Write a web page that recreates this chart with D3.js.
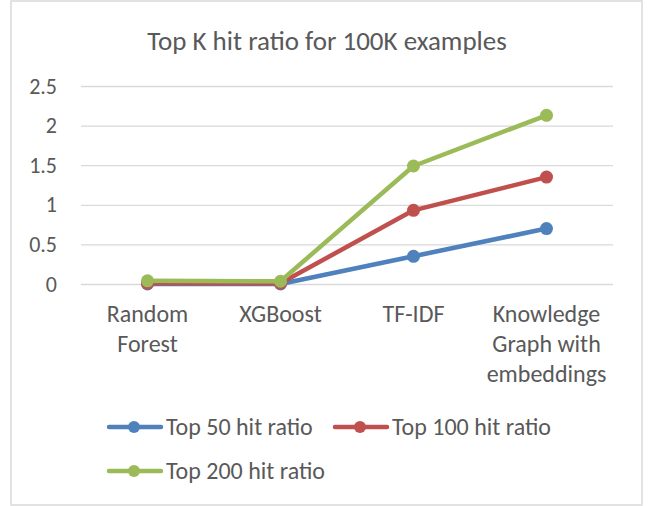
<!DOCTYPE html>
<html>
<head>
<meta charset="utf-8">
<script src="https://cdn.jsdelivr.net/npm/d3@7"></script>
<style>
  html, body { margin: 0; padding: 0; background: #fff; }
  svg { display: block; }
  text { font-family: Carlito, Calibri, Lato, "Open Sans", sans-serif; fill: #595959; }
</style>
</head>
<body>
<svg id="chart" width="649" height="506"></svg>
<script>
const title = "Top K hit ratio for 100K examples";
const categories = [["Random", "Forest"], ["XGBoost"], ["TF-IDF"], ["Knowledge", "Graph with", "embeddings"]];
const categoryKeys = ["Random Forest", "XGBoost", "TF-IDF", "Knowledge Graph with embeddings"];
const seriesNames = ["Top 50 hit ratio", "Top 100 hit ratio", "Top 200 hit ratio"];
const top50 = [0, 0, 0.35, 0.70];
const top100 = [0.01, 0.01, 0.93, 1.35];
const top200 = [0.04, 0.035, 1.49, 2.13];
const yTicks = [0, 0.5, 1, 1.5, 2, 2.5];
const yTickLabels = ["0", "0.5", "1", "1.5", "2", "2.5"];
const colors = ["#4F81BD", "#C0504D", "#9BBB59"];

const series = [top50, top100, top200];
const svg = d3.select("#chart");

// chart border
svg.append("rect").attr("x", 11).attr("y", 1).attr("width", 631).attr("height", 504)
  .attr("fill", "#fff").attr("stroke", "#D9D9D9").attr("stroke-width", 1.5);

svg.append("text").attr("x", 327).attr("y", 50).attr("text-anchor", "middle")
  .style("font-size", "27px").text(title);

const x = d3.scaleBand().domain(categoryKeys).range([81, 613]);
const y = d3.scaleLinear().domain([0, 2.5]).range([284, 86]);

// gridlines
const yAxis = d3.axisLeft(y).tickValues(yTicks).tickFormat((d, i) => yTickLabels[i])
  .tickSize(-(613 - 81)).tickPadding(24);
const gy = svg.append("g").attr("transform", "translate(81,0)").call(yAxis);
gy.select(".domain").remove();
gy.selectAll(".tick line").attr("stroke", "#D9D9D9").attr("stroke-width", 1.3);
gy.selectAll(".tick text").style("font-size", "22px").attr("fill", "#595959")
  .attr("font-family", null);

// x category labels
const gx = svg.append("g");
categoryKeys.forEach((k, i) => {
  const t = gx.append("text").attr("x", x(k) + x.bandwidth() / 2).attr("y", 322)
    .attr("text-anchor", "middle").style("font-size", "24px");
  categories[i].forEach((line, j) => {
    t.append("tspan").attr("x", x(k) + x.bandwidth() / 2).attr("dy", j === 0 ? 0 : 30).text(line);
  });
});

const line = d3.line().x((d, i) => x(categoryKeys[i]) + x.bandwidth() / 2).y(d => y(d));
series.forEach((s, si) => {
  svg.append("path").datum(s).attr("d", line).attr("fill", "none")
    .attr("stroke", colors[si]).attr("stroke-width", 4.5).attr("stroke-linejoin", "round").attr("stroke-linecap", "round");
  svg.selectAll(null).data(s).enter().append("circle")
    .attr("cx", (d, i) => x(categoryKeys[i]) + x.bandwidth() / 2)
    .attr("cy", d => y(d)).attr("r", 6.5).attr("fill", colors[si]);
});

// legend
const legendPos = [[107, 427], [333, 427], [107, 471]];
seriesNames.forEach((name, i) => {
  const [lx, ly] = legendPos[i];
  const g = svg.append("g").attr("transform", `translate(${lx},${ly})`);
  g.append("line").attr("x1", 2).attr("x2", 54).attr("y1", 0).attr("y2", 0)
    .attr("stroke", colors[i]).attr("stroke-width", 4.5).attr("stroke-linecap", "round");
  g.append("circle").attr("cx", 27).attr("cy", 0).attr("r", 6).attr("fill", colors[i]);
  g.append("text").attr("x", 59).attr("y", 8).style("font-size", "24px").text(name);
});
</script>
</body>
</html>
